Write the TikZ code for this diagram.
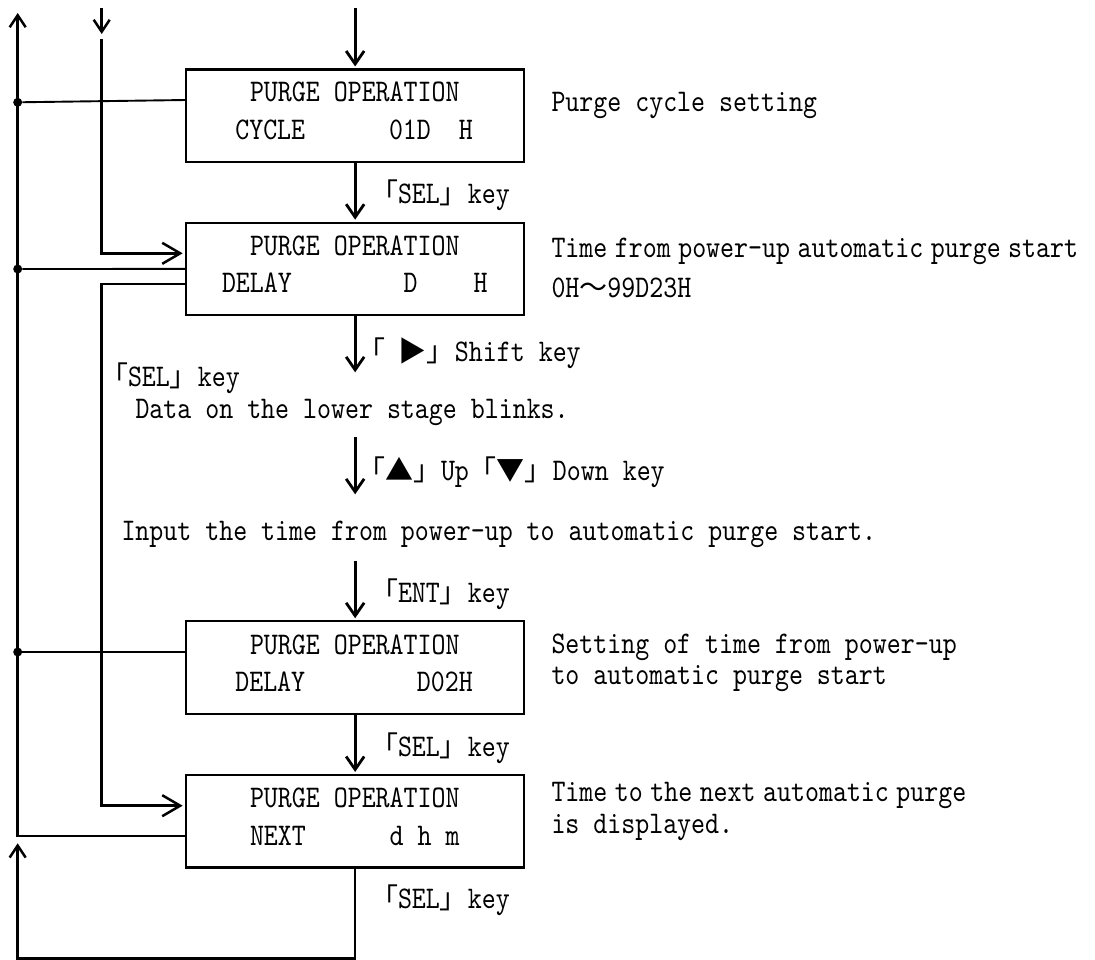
\documentclass[tikz,border=0pt]{standalone}
\usepackage{fontspec}
\usetikzlibrary{arrows.meta}
\newfontfamily\monof{lmmono10-regular.otf}[FakeStretch=0.845]
\newfontfamily\cjk{Noto Sans CJK JP}
\newcommand{\cjkt}[1]{{\cjk\fontsize{28}{34}\selectfont #1}}
\tikzset{
  txt/.style={anchor=base west, inner sep=0pt, outer sep=0pt, font=\monof\fontsize{31.5}{36}\selectfont},
  box/.style={draw, line width=2.3pt, inner sep=0pt, outer sep=0pt, minimum width=338.3pt, minimum height=92.5pt},
  ln/.style={line width=2.5pt},
  thin/.style={line width=1.9pt},
  arr/.style={line width=2.8pt, -{Straight Barb[length=13pt,width=18pt]}, shorten >=3pt},
  arrs/.style={line width=2.5pt, -{Straight Barb[length=12pt,width=16pt]}},
  harr/.style={line width=2.5pt, -{Straight Barb[length=18pt,width=21pt]}, shorten >=3.3pt},
  dot/.style={circle, fill, inner sep=0pt, minimum size=9pt}
}
\begin{document}
\begin{tikzpicture}[x=1pt, y=-1pt]
\useasboundingbox (0,0) rectangle (1095,959);
\fill[white] (0,0) rectangle (1095,959);

% boxes
\node[box] (b1) at (355.15,115.7) {};
\node[box] (b2) at (355.15,268.9) {};
\node[box] (b3) at (355.15,667.5) {};
\node[box] (b4) at (355.15,821.2) {};

% box texts
\node[txt] (b1r1) at (250,101.7) {PURGE OPERATION};
\node[txt] (b1r2) at (235.3,139) {CYCLE~~~~~~01D~~H};
\node[txt] (b2r1) at (250,255) {PURGE OPERATION};
\node[txt] (b2r2) at (222,292.7) {DELAY~~~~~~~~D~~~~H};
\node[txt] (b3r1) at (250,654.3) {PURGE OPERATION};
\node[txt] (b3r2) at (235.3,691.7) {DELAY~~~~~~~~D02H};
\node[txt] (b4r1) at (250,807.3) {PURGE OPERATION};
\node[txt] (b4r2) at (250,845) {NEXT~~~~~~d~h~m};

% labels along the main flow
\node[txt] (k1) at (370,203) {\cjkt{「}SEL\cjkt{」}key};
\node[txt] (k2) at (357,361.7) {\cjkt{「}~\cjkt{▶}\cjkt{」}Shift key};
\node[txt] (k3) at (100,386) {\cjkt{「}SEL\cjkt{」}key};
\node[txt] (k4) at (135.5,418) {Data on the lower stage blinks.};
\node[txt] (k5) at (357,480) {\cjkt{「}\cjkt{▲}\cjkt{」}Up\cjkt{「}\cjkt{▼}\cjkt{」}Down key};
\node[txt] (k6) at (121.5,540) {Input the time from power-up to automatic purge start.};
\node[txt] (k7) at (370,602.7) {\cjkt{「}ENT\cjkt{」}key};
\node[txt] (k8) at (370,756) {\cjkt{「}SEL\cjkt{」}key};
\node[txt] (k9) at (370,908.3) {\cjkt{「}SEL\cjkt{」}key};

% right-hand notes
\node[txt] (n1) at (551.5,111.5) {Purge cycle setting};
\node[txt] (n2a) at (551.5,257.3) {\spaceskip=7.5pt Time from power-up automatic purge start};
\node[txt] (n2b) at (551.5,297.7) {0H\cjkt{～}99D23H};
\node[txt] (n3a) at (551.5,653.5) {Setting of time from power-up};
\node[txt] (n3b) at (551.5,684.5) {to automatic purge start};
\node[txt] (n4a) at (551.5,801) {\spaceskip=7.5pt Time to the next automatic purge};
\node[txt] (n4b) at (551.5,833.3) {is displayed.};

% junction dots
\node[dot] (d1) at (17.7,102.3) {};
\node[dot] (d2) at (17.7,269) {};
\node[dot] (d3) at (17.7,652) {};

% free ends
\coordinate (tl) at (17.7,13);
\coordinate (lt2) at (17.7,843.3);
\coordinate (bl) at (17.7,958.3);
\coordinate (tm1) at (101.7,8);
\coordinate (tm2) at (101.7,34);
\coordinate (tm3) at (101.7,39);
\coordinate (tc) at (355.15,8);
\coordinate (a1) at (355.15,375.3);
\coordinate (a2s) at (355.15,437.3);
\coordinate (a2e) at (355.15,497.3);
\coordinate (a3s) at (355.15,560.7);

% main vertical flow
\draw[arr] (tc) -- (b1.north);
\draw[arr] (b1.south) -- (b2.north);
\draw[arr] (b2.south) -- (a1);
\draw[arr] (a2s) -- (a2e);
\draw[arr] (a3s) -- (b3.north);
\draw[arr] (b3.south) -- (b4.north);

% left return line
\draw[ln, arrs] ([yshift=-14.8pt]b4.west) -| (tl);
\draw[thin] (d1) -- ([yshift=15.7pt]b1.west);
\draw[thin] (d2) -- (b2.west);
\draw[thin] (d3) -- ([yshift=15.5pt]b3.west);

% bottom loop
\draw[ln, arrs] (b4.south) |- (bl) -- (lt2);

% second column line
\draw[arrs] (tm1) -- (tm2);
\draw[harr] (tm3) |- ([yshift=15.6pt]b2.west);
\draw[harr] ([yshift=-15.1pt]b2.west) -- ++(-84.3,0) |- ([yshift=15.5pt]b4.west);
\end{tikzpicture}
\end{document}
